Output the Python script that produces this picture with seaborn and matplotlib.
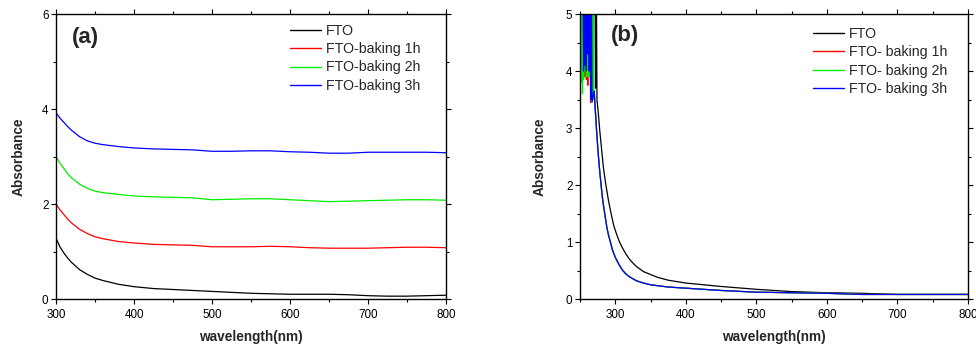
import numpy as np
import pandas as pd
import matplotlib
matplotlib.use("Agg")
import matplotlib.pyplot as plt
import seaborn as sns
from matplotlib.ticker import MultipleLocator

# ---------------- data: panel (a) ----------------
wl_a = [300, 305, 310, 315, 320, 330, 340, 350, 360, 380, 400, 425, 450, 475, 500, 525, 550, 575, 600, 625, 650, 675, 700, 725, 750, 775, 800]
fto_a = [1.28, 1.1, 0.97, 0.86, 0.77, 0.62, 0.52, 0.44, 0.39, 0.31, 0.26, 0.22, 0.2, 0.18, 0.16, 0.14, 0.12, 0.11, 0.1, 0.1, 0.1, 0.09, 0.07, 0.06, 0.06, 0.07, 0.08]
b1_a = [2.0, 1.88, 1.78, 1.68, 1.6, 1.47, 1.38, 1.31, 1.27, 1.21, 1.18, 1.15, 1.14, 1.13, 1.1, 1.1, 1.1, 1.11, 1.1, 1.08, 1.07, 1.07, 1.07, 1.08, 1.09, 1.09, 1.08]
b2_a = [3.0, 2.86, 2.75, 2.64, 2.55, 2.42, 2.33, 2.27, 2.24, 2.2, 2.17, 2.15, 2.14, 2.13, 2.09, 2.1, 2.11, 2.11, 2.09, 2.07, 2.05, 2.06, 2.07, 2.08, 2.09, 2.09, 2.08]
b3_a = [3.92, 3.81, 3.72, 3.63, 3.55, 3.42, 3.33, 3.28, 3.25, 3.21, 3.18, 3.16, 3.15, 3.14, 3.11, 3.11, 3.12, 3.12, 3.1, 3.09, 3.07, 3.07, 3.09, 3.09, 3.09, 3.09, 3.08]
labels_a = ["FTO", "FTO-baking 1h", "FTO-baking 2h", "FTO-baking 3h"]

# ---------------- data: panel (b) ----------------
wl_b_fto = [271, 272, 273, 274, 276, 278, 280, 283, 286, 290, 294, 298, 302, 306, 310, 315, 320, 325, 330, 340, 350, 360, 375, 400, 450, 500, 550, 600, 650, 700, 750, 800]
fto_b = [6, 3.7, 6, 3.5, 3.25, 2.95, 2.7, 2.32, 2.05, 1.75, 1.5, 1.28, 1.13, 1.0, 0.9, 0.79, 0.7, 0.63, 0.57, 0.48, 0.43, 0.38, 0.33, 0.28, 0.22, 0.17, 0.13, 0.11, 0.1, 0.08, 0.08, 0.08]

wl_b_col = [270, 272, 274, 276, 278, 280, 282, 284, 286, 288, 290, 293, 296, 300, 305, 310, 315, 320, 330, 340, 350, 375, 400, 450, 500, 550, 600, 650, 700, 750, 800]
col_b = [3.65, 3.25, 2.85, 2.52, 2.23, 1.98, 1.75, 1.58, 1.42, 1.26, 1.14, 1.0, 0.86, 0.73, 0.61, 0.51, 0.44, 0.39, 0.32, 0.28, 0.25, 0.21, 0.19, 0.15, 0.12, 0.11, 0.1, 0.08, 0.08, 0.08, 0.08]

# noisy start of each baked sample (250-270 nm)
wl_noise_red = [250, 251, 252, 253, 254, 255, 256, 257, 258, 259, 260, 261, 262, 263, 264, 265, 266, 267, 268, 269]
red_noise = [6, 4.2, 6, 4.4, 6, 4.1, 6, 3.9, 6, 3.85, 6, 3.75, 6, 4.2, 6, 3.45, 6, 3.5, 6, 3.5]
wl_noise_green = [252, 252.5, 253, 253.5, 254, 255, 256, 257, 258, 259, 260, 261, 262, 263, 264, 265, 266, 267, 268, 268.5, 269, 269.5]
green_noise = [6, 3.8, 6, 3.6, 6, 3.85, 6, 4.0, 6, 3.9, 6, 3.9, 6, 3.9, 6, 3.6, 6, 3.7, 6, 3.5, 6, 3.55]
wl_noise_blue = [254, 255, 256, 257, 258, 259, 260, 261, 262, 263, 264, 265, 266, 267]
blue_noise = [6, 4.0, 6, 4.1, 6, 4.0, 6, 4.3, 6, 4.0, 6, 3.5, 6, 3.45]
labels_b = ["FTO", "FTO- baking 1h", "FTO- baking 2h", "FTO- baking 3h"]

colors = ["#000000", "#ff0000", "#00ee00", "#0000ff"]

# ---------------- build tables ----------------
rows_a = []
for lab, ys in zip(labels_a, [fto_a, b1_a, b2_a, b3_a]):
    for x, y in zip(wl_a, ys):
        rows_a.append((lab, x, y))
df_a = pd.DataFrame(rows_a, columns=["sample", "wl", "abs"])

rows_b = []
for x, y in zip(wl_b_fto, fto_b):
    rows_b.append((labels_b[0], x, y))
for lab, (nx, ny) in zip(labels_b[1:], [(wl_noise_red, red_noise), (wl_noise_green, green_noise), (wl_noise_blue, blue_noise)]):
    for x, y in zip(nx + wl_b_col, ny + col_b):
        rows_b.append((lab, x, y))
df_b = pd.DataFrame(rows_b, columns=["sample", "wl", "abs"])

# ---------------- plot ----------------
sns.set_style("ticks")
plt.rcParams["font.family"] = ["Liberation Sans", "DejaVu Sans"]

fig = plt.figure(figsize=(9.76, 3.47), dpi=100)
ax1 = fig.add_axes([0.0574, 0.1383, 0.3996, 0.8213])
ax2 = fig.add_axes([0.5943, 0.1383, 0.3975, 0.8213])

sns.lineplot(data=df_a, x="wl", y="abs", hue="sample", hue_order=labels_a,
             palette=colors, sort=False, estimator=None, lw=0.9, ax=ax1)
sns.lineplot(data=df_b, x="wl", y="abs", hue="sample", hue_order=labels_b,
             palette=colors, sort=False, estimator=None, lw=0.9, ax=ax2)

def style(ax, xlim, ylim, ymaj, ymin, tag, tagpos, legpos, ylabpad):
    ax.set_xlim(*xlim)
    ax.set_ylim(*ylim)
    ax.xaxis.set_major_locator(MultipleLocator(100))
    ax.xaxis.set_minor_locator(MultipleLocator(50))
    ax.yaxis.set_major_locator(MultipleLocator(ymaj))
    ax.yaxis.set_minor_locator(MultipleLocator(ymin))
    for s in ax.spines.values():
        s.set_visible(True)
        s.set_linewidth(1.0)
        s.set_color("black")
    ax.tick_params(which="both", direction="out", top=True, right=True, labelsize=8.4, width=0.8, colors="black", pad=2)
    ax.tick_params(axis="x", which="both", pad=3.5)
    ax.tick_params(which="major", length=3.5)
    ax.tick_params(which="minor", length=2.5)
    ax.set_xlabel("wavelength(nm)", fontsize=9.8, fontweight="bold", labelpad=7)
    ax.set_ylabel("Absorbance", fontsize=9.8, fontweight="bold", labelpad=ylabpad)
    ax.text(tagpos[0], tagpos[1], tag, transform=ax.transAxes, fontsize=16, fontweight="bold", va="center")
    leg = ax.legend(loc="upper left", bbox_to_anchor=legpos, frameon=False, fontsize=10.2,
                    handlelength=2.2, handletextpad=0.35, labelspacing=0.3,
                    borderaxespad=0, borderpad=0)
    for h in leg.get_lines():
        h.set_linewidth(1.0)

style(ax1, (300, 800), (0, 6), 2, 1, "(a)", (0.04, 0.916), (0.60, 0.965), 12)
style(ax2, (250, 800), (0, 5), 1, 0.5, "(b)", (0.079, 0.926), (0.6005, 0.954), 14)

fig.savefig("out.png", dpi=100)
